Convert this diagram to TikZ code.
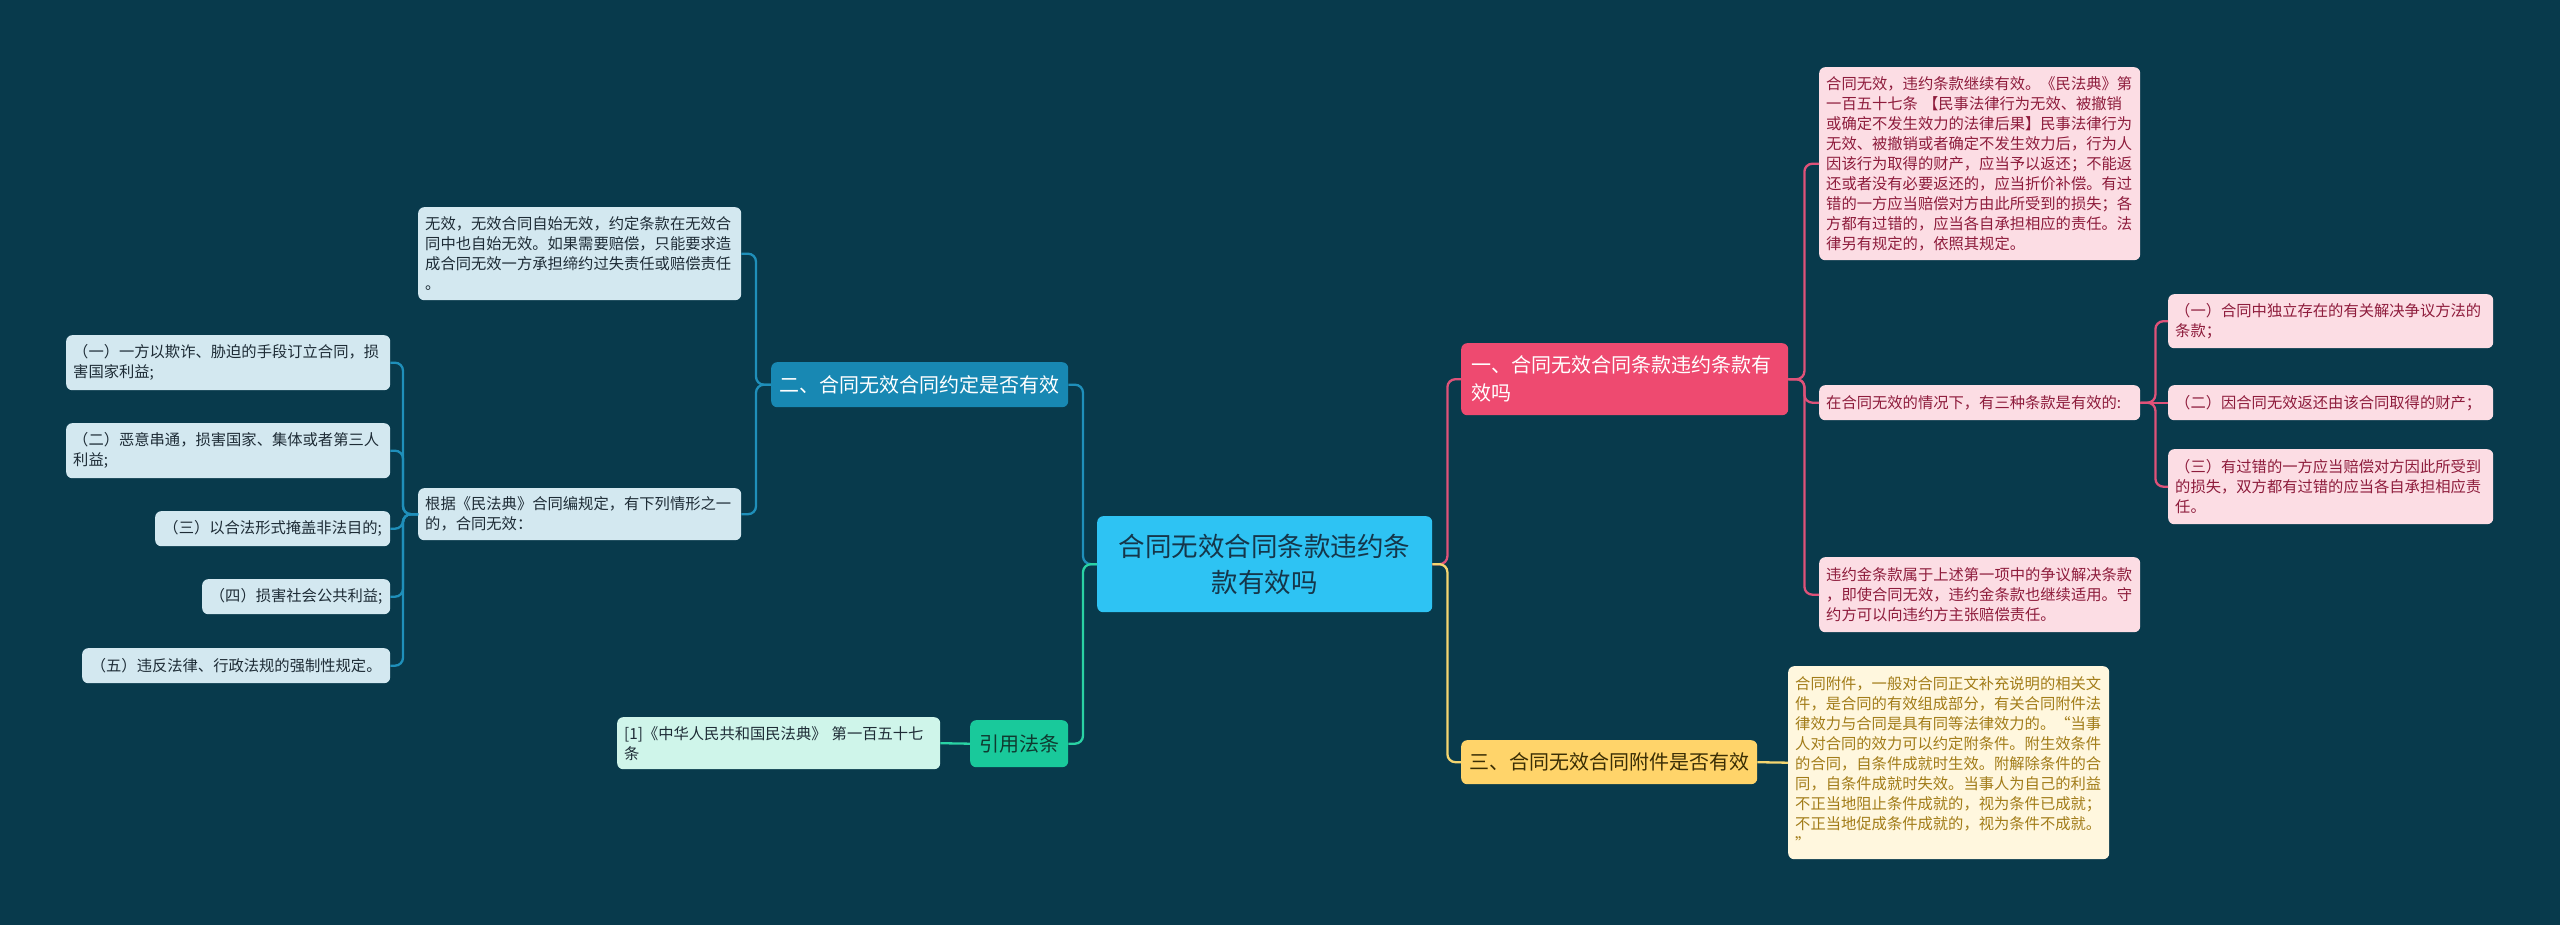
\documentclass[tikz,border=0pt]{standalone}
\usepackage{fontspec}
\setmainfont{Noto Sans CJK SC}
\definecolor{bg}{HTML}{083A4C}
\definecolor{cenfill}{HTML}{2EC3F3}
\definecolor{centext}{HTML}{15364A}
\definecolor{pinkmain}{HTML}{EE4A70}
\definecolor{pinkleaf}{HTML}{FCDDE4}
\definecolor{pinktext}{HTML}{8E1C3C}
\definecolor{pinkline}{HTML}{DF5279}
\definecolor{yelmain}{HTML}{FFD46A}
\definecolor{yeltext}{HTML}{3A2E05}
\definecolor{yelleaf}{HTML}{FFF7DE}
\definecolor{yelleaftext}{HTML}{A27C18}
\definecolor{yelline}{HTML}{F4D570}
\definecolor{bluemain}{HTML}{1888B3}
\definecolor{blueleaf}{HTML}{D3E8F0}
\definecolor{bluetext}{HTML}{1E2C36}
\definecolor{blueline}{HTML}{1F8FBA}
\definecolor{greenmain}{HTML}{19C99B}
\definecolor{greentext}{HTML}{0F3A30}
\definecolor{greenleaf}{HTML}{CFF5EA}
\definecolor{greenline}{HTML}{2AD2A4}
\begin{document}
\begin{tikzpicture}[x=1pt,y=-1pt,
  box/.style={rectangle, rounded corners=6pt, anchor=north west, inner xsep=7pt, inner ysep=0pt, align=left},
  lf/.style={font=\fontsize{15.3}{20}\selectfont},
  br/.style={font=\fontsize{20}{28}\selectfont},
  leafpink/.style={box, lf, fill=pinkleaf, text=pinktext},
  leafyel/.style={box, lf, fill=yelleaf, text=yelleaftext},
  leafblue/.style={box, lf, fill=blueleaf, text=bluetext},
  leafgreen/.style={box, lf, fill=greenleaf, text=bluetext},
  conn/.style={line width=2.3pt, rounded corners=8pt},
  cpink/.style={conn, draw=pinkline},
  cyel/.style={conn, draw=yelline},
  cblue/.style={conn, draw=blueline},
  cgreen/.style={conn, draw=greenline}]
\fill[bg] (0,0) rectangle (2560,925);
\useasboundingbox (0,0) rectangle (2560,925);

% center
\node[box, align=center, fill=cenfill, text=centext, font=\fontsize{26.5}{36}\selectfont,
  minimum width=335, minimum height=96] (center) at (1097,516)
  {合同无效合同条款违约条\\款有效吗};

% branch 1 (pink)
\node[box, br, fill=pinkmain, text=white, inner xsep=10pt, text width=307, minimum height=72] (b1) at (1461,343)
  {一、合同无效合同条款违约条款有\\效吗};
\node[leafpink, text width=307, minimum height=193] (l1a) at (1819,67)
  {合同无效，违约条款继续有效。《民法典》第\\
   一百五十七条~【民事法律行为无效、被撤销\\
   或确定不发生效力的法律后果】民事法律行为\\
   无效、被撤销或者确定不发生效力后，行为人\\
   因该行为取得的财产，应当予以返还；不能返\\
   还或者没有必要返还的，应当折价补偿。有过\\
   错的一方应当赔偿对方由此所受到的损失；各\\
   方都有过错的，应当各自承担相应的责任。法\\
   律另有规定的，依照其规定。};
\node[leafpink, text width=307, minimum height=35] (l1b) at (1819,385)
  {在合同无效的情况下，有三种条款是有效的:};
\node[leafpink, text width=311, minimum height=54] (s1a) at (2168,294)
  {（一）合同中独立存在的有关解决争议方法的\\条款；};
\node[leafpink, text width=311, minimum height=35] (s1b) at (2168,385)
  {（二）因合同无效返还由该合同取得的财产；};
\node[leafpink, text width=311, minimum height=75] (s1c) at (2168,449)
  {（三）有过错的一方应当赔偿对方因此所受到\\的损失，双方都有过错的应当各自承担相应责\\任。};
\node[leafpink, text width=307, minimum height=75] (l1c) at (1819,557)
  {违约金条款属于上述第一项中的争议解决条款\\，即使合同无效，违约金条款也继续适用。守\\约方可以向违约方主张赔偿责任。};

% branch 3 (yellow)
\node[box, br, align=center, fill=yelmain, text=yeltext, minimum width=296, minimum height=44] (b3) at (1461,740)
  {三、合同无效合同附件是否有效};
\node[leafyel, text width=307, minimum height=193] (l3) at (1788,666)
  {合同附件，一般对合同正文补充说明的相关文\\
   件，是合同的有效组成部分，有关合同附件法\\
   律效力与合同是具有同等法律效力的。“当事\\
   人对合同的效力可以约定附条件。附生效条件\\
   的合同，自条件成就时生效。附解除条件的合\\
   同，自条件成就时失效。当事人为自己的利益\\
   不正当地阻止条件成就的，视为条件已成就；\\
   不正当地促成条件成就的，视为条件不成就。\\
   ”};

% branch 2 (blue)
\node[box, br, align=center, fill=bluemain, text=white, minimum width=297, minimum height=45] (b2) at (771,362)
  {二、合同无效合同约定是否有效};
\node[leafblue, text width=309, minimum height=93] (l2a) at (418,207)
  {无效，无效合同自始无效，约定条款在无效合\\同中也自始无效。如果需要赔偿，只能要求造\\成合同无效一方承担缔约过失责任或赔偿责任\\。};
\node[leafblue, text width=309, minimum height=52] (l2b) at (418,488)
  {根据《民法典》合同编规定，有下列情形之一\\的，合同无效：};
\node[leafblue, text width=310, minimum height=55] (s2a) at (66,335)
  {（一）一方以欺诈、胁迫的手段订立合同，损\\害国家利益;};
\node[leafblue, text width=310, minimum height=55] (s2b) at (66,423)
  {（二）恶意串通，损害国家、集体或者第三人\\利益;};
\node[leafblue, align=center, minimum width=235, minimum height=35] (s2c) at (155,511)
  {（三）以合法形式掩盖非法目的;};
\node[leafblue, align=center, minimum width=188, minimum height=35] (s2d) at (202,579)
  {（四）损害社会公共利益;};
\node[leafblue, align=center, minimum width=308, minimum height=35] (s2e) at (82,648)
  {（五）违反法律、行政法规的强制性规定。};

% branch 4 (green)
\node[box, br, align=center, fill=greenmain, text=greentext, minimum width=98, minimum height=47] (b4) at (970,720)
  {引用法条};
\node[leafgreen, text width=309, minimum height=52] (l4) at (617,717)
  {[1]《中华人民共和国民法典》~第一百五十七\\条};

% connectors
\draw[cpink] (center.east) -- ++(15,0) |- (b1.west);
\draw[cyel] (center.east) -- ++(15,0) |- (b3.west);
\draw[cpink] (b1.east) -- ++(16,0) |- (l1a.west);
\draw[cpink] (b1.east) -- ++(16,0) |- (l1b.west);
\draw[cpink] (b1.east) -- ++(16,0) |- (l1c.west);
\draw[cpink] (l1b.east) -- ++(15,0) |- (s1a.west);
\draw[cpink] (l1b.east) -- (s1b.west);
\draw[cpink] (l1b.east) -- ++(15,0) |- (s1c.west);
\draw[cyel] (b3.east) -- (l3.west);
\draw[cblue] (center.west) -- ++(-14,0) |- (b2.east);
\draw[cgreen] (center.west) -- ++(-14,0) |- (b4.east);
\draw[cblue] (b2.west) -- ++(-15,0) |- (l2a.east);
\draw[cblue] (b2.west) -- ++(-15,0) |- (l2b.east);
\draw[cblue] (l2b.west) -- ++(-15,0) |- (s2a.east);
\draw[cblue] (l2b.west) -- ++(-15,0) |- (s2b.east);
\draw[cblue] (l2b.west) -- ++(-15,0) |- (s2c.east);
\draw[cblue] (l2b.west) -- ++(-15,0) |- (s2d.east);
\draw[cblue] (l2b.west) -- ++(-15,0) |- (s2e.east);
\draw[cgreen] (b4.west) -- (l4.east);
\end{tikzpicture}
\end{document}
